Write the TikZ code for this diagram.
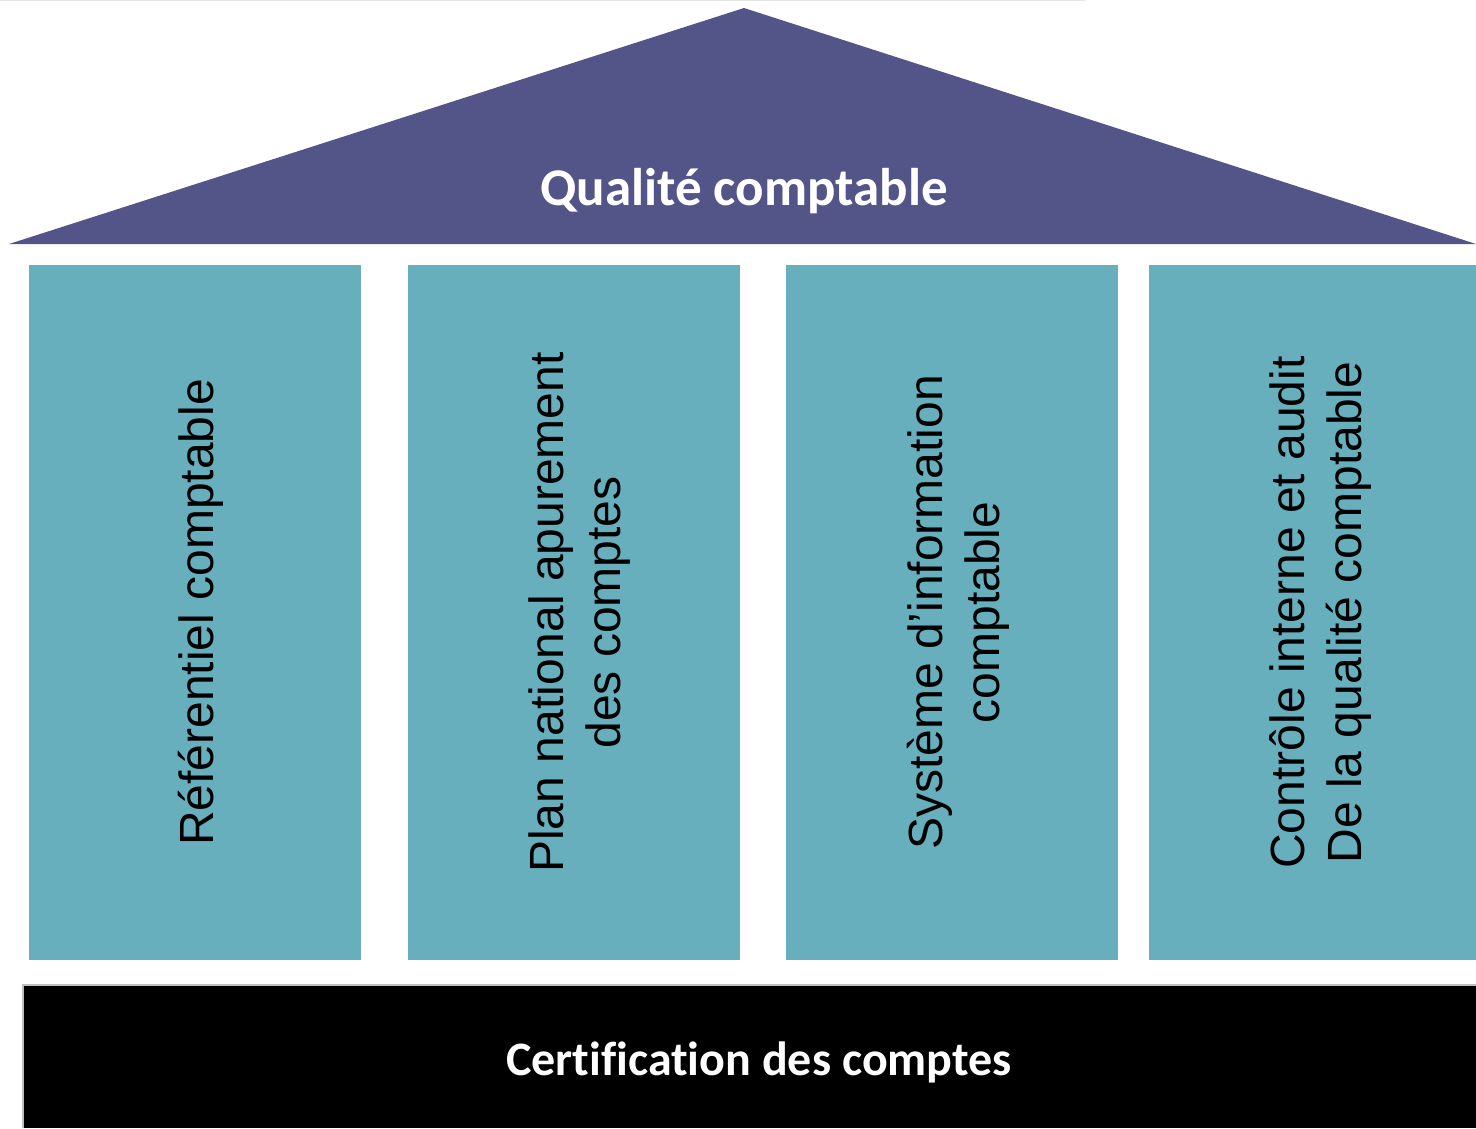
\documentclass[tikz,border=0pt]{standalone}
\usepackage{fontspec}
\setmainfont{Liberation Sans}
\newfontfamily\carlitofont{Carlito}
\newfontfamily\carlitonolig[Ligatures=NoCommon]{Carlito}
\definecolor{roofc}{HTML}{535589}
\definecolor{colc}{HTML}{68AFBD}
\begin{document}
\begin{tikzpicture}[x=1pt,y=-1pt,
  pillar/.style={fill=colc, minimum height=695pt, minimum width=332pt, inner sep=0pt},
  pillartext/.style={rotate=90, align=center, inner sep=0pt, font=\fontsize{48}{57}\selectfont, text=black},
  boldlbl/.style={text=white, font=\carlitofont\bfseries\fontsize{53}{60}\selectfont, inner sep=0pt}]
\useasboundingbox (0,0) rectangle (1476,1128);
\fill[white] (0,0) rectangle (1476,1128);
\draw[black!10, line width=2pt] (0,0) -- (1085,0);
% roof
\fill[roofc] (744,8) -- (1476,244) -- (9,244) -- cycle;
\node[boldlbl, anchor=base] (roof) at (744,205) {Qualité comptable};
% pillars
\node[pillar] (p1) at (195,612.5) {};
\node[pillar] (p2) at (574,612.5) {};
\node[pillar] (p3) at (952,612.5) {};
\node[pillar, minimum width=327pt] (p4) at (1312.5,612.5) {};
\node[pillartext] (t1) at (201,612.5) {Référentiel comptable};
\node[pillartext] (t2) at (580,612.5) {Plan national apurement\\des comptes};
\node[pillartext] (t3) at (958,612.5) {Système d’information\\comptable};
\node[pillartext] (t4) at (1320,612.5) {Contrôle interne et audit\\De la qualité comptable};
% base
\fill[black!25] (22,984) rectangle (1476,1128);
\fill[black] (24,986) rectangle (1476,1128);
\node[boldlbl, font=\carlitonolig\bfseries\fontsize{48}{56}\selectfont, anchor=base] (base) at (759,1075) {Certification des comptes};
\end{tikzpicture}
\end{document}
